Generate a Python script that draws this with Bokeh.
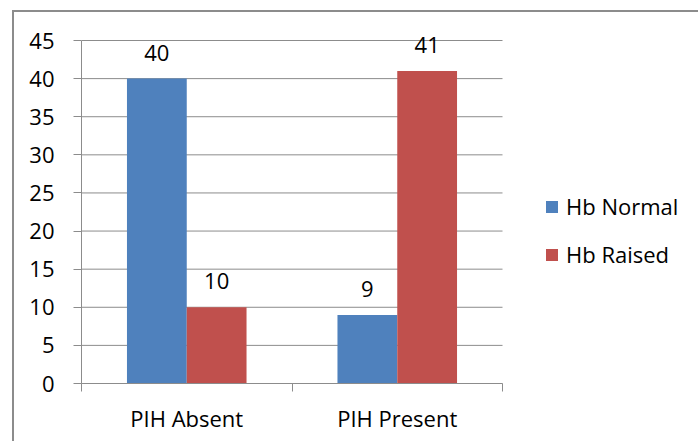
from bokeh.plotting import figure
from bokeh.models import (Range1d, FixedTicker, Legend, LegendItem, ColumnDataSource)
from bokeh.core.properties import value
from bokeh.embed import file_html
from bokeh.resources import INLINE

categories = ["PIH Absent", "PIH Present"]
series_names = ["Hb Normal", "Hb Raised"]
hb_normal = [40, 9]
hb_raised = [10, 41]
y_ticks = [0, 5, 10, 15, 20, 25, 30, 35, 40, 45]

colors = ["#4F81BD", "#C0504D"]
FONT = "Open Sans"
FS = "22px"
GRID = "#8c8c8c"

# canvas placed at page (14, 12) after a 12/10 px margin and a 2px border
W, H = 686, 431
LEFT, BOTTOM, TOP = 67, 60, 8
PLOT_W = 421          # width of the category area in px
PLOT_H = 343          # height of the 0..45 value area in px
FRAME_W = W - LEFT
FRAME_H = H - BOTTOM - TOP
n = len(categories)
ytop = y_ticks[-1]
xmax = n * FRAME_W / PLOT_W
ymax = ytop * FRAME_H / PLOT_H

p = figure(width=W, height=H, output_backend="svg", toolbar_location=None,
           x_range=Range1d(0, xmax), y_range=Range1d(0, ymax),
           min_border_left=LEFT, min_border_right=0, min_border_top=TOP,
           min_border_bottom=BOTTOM)
p.margin = (10, 0, 0, 12)
p.styles = {"border-left": "2px solid #8c8c8c", "border-top": "2px solid #8c8c8c"}
p.outline_line_color = None
p.background_fill_color = "white"
p.border_fill_color = "white"
p.xgrid.grid_line_color = None
p.ygrid.grid_line_color = None

# horizontal gridlines limited to the category area
p.segment(x0=[0] * len(y_ticks), x1=[n] * len(y_ticks), y0=y_ticks, y1=y_ticks,
          line_color=GRID, line_width=1)

bw = 0.284
series = [hb_normal, hb_raised]
renderers = []
for k, (vals, col) in enumerate(zip(series, colors)):
    xs = [i + 0.5 + (k - 0.5) * bw for i in range(n)]
    src = ColumnDataSource(dict(x=xs, top=vals, lab=[str(v) for v in vals]))
    r = p.vbar(x="x", top="top", width=bw, bottom=0, source=src,
               fill_color=col, line_color=None)
    renderers.append(r)
    p.text(x="x", y="top", text="lab", source=src, text_align="center",
           text_baseline="middle", y_offset=-26, text_font=value(FONT),
           text_font_size=FS, text_color="black")

# axes
yax = p.yaxis[0]
yax.bounds = (0, ytop)
yax.ticker = FixedTicker(ticks=y_ticks)
yax.axis_line_color = GRID
yax.major_tick_line_color = GRID
yax.major_tick_out = 8
yax.major_tick_in = 0
yax.minor_tick_line_color = None
yax.major_label_text_font = FONT
yax.major_label_text_font_size = FS
yax.major_label_text_color = "black"
yax.major_label_standoff = 19

xax = p.xaxis[0]
centers = [i + 0.5 for i in range(n)]
xax.bounds = (0, n)
xax.ticker = FixedTicker(ticks=centers, minor_ticks=list(range(n + 1)))
xax.major_label_overrides = {c: name for c, name in zip(centers, categories)}
xax.axis_line_color = GRID
xax.major_tick_out = 0
xax.major_tick_in = 0
xax.major_tick_line_color = None
xax.minor_tick_line_color = GRID
xax.minor_tick_out = 8
xax.minor_tick_in = 0
xax.major_label_text_font = FONT
xax.major_label_text_font_size = FS
xax.major_label_text_color = "black"
xax.major_label_standoff = 11

legend = Legend(items=[LegendItem(label=s, renderers=[r]) for s, r in zip(series_names, renderers)],
                location=(463, 114), orientation="vertical",
                glyph_width=15, glyph_height=15, label_height=20, spacing=18,
                label_standoff=7, padding=0, margin=0,
                border_line_color=None, background_fill_alpha=0,
                label_text_font=FONT, label_text_font_size=FS, label_text_color="black")
p.add_layout(legend)

open("out.html", "w").write(file_html(p, INLINE))
